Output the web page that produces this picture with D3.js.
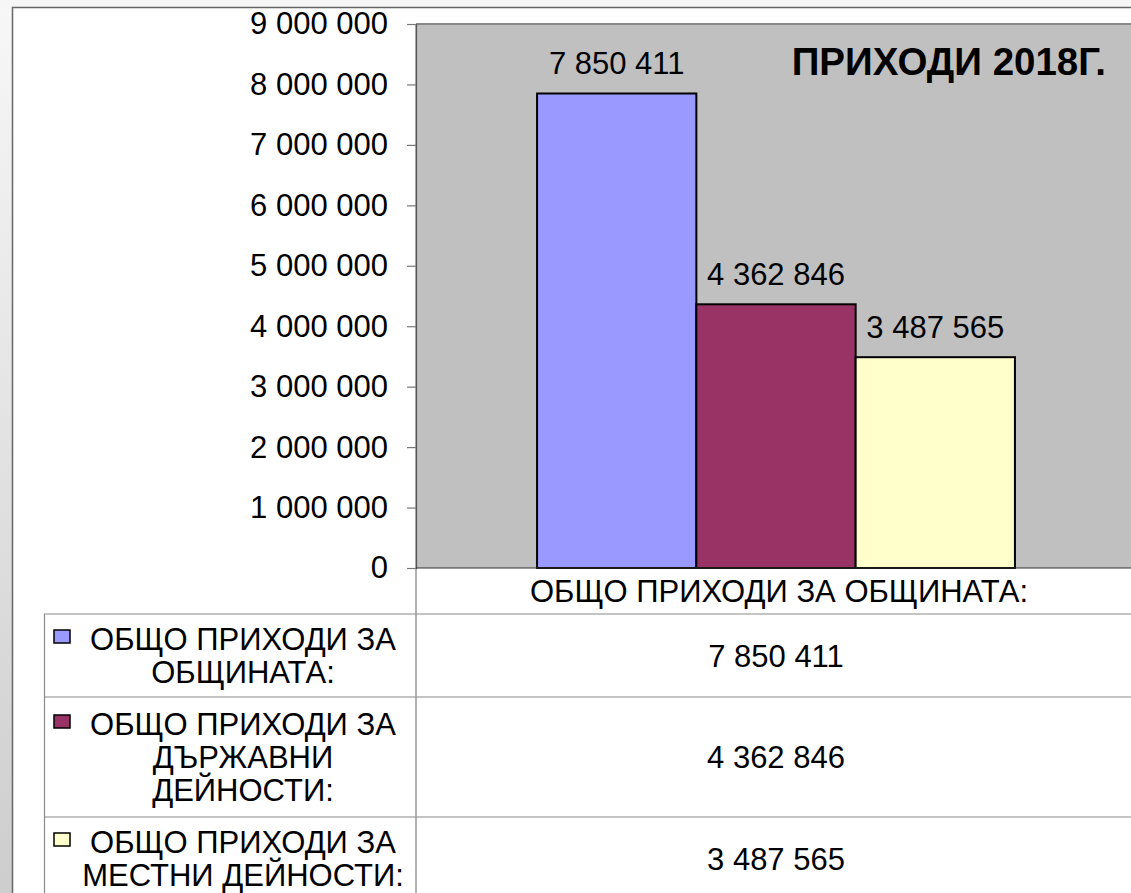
<!DOCTYPE html>
<html>
<head>
<meta charset="utf-8">
<title>Приходи 2018г.</title>
<style>
  body { margin: 0; background: #f6f6f6; }
  svg { display: block; font-family: "Liberation Sans", Arial, sans-serif; }
</style>
</head>
<body>
<div id="chart"></div>
<script src="https://cdn.jsdelivr.net/npm/d3@7"></script>
<script>
// data
var categories = ["ОБЩО ПРИХОДИ ЗА ОБЩИНАТА:"];
var seriesNames = ["ОБЩО ПРИХОДИ ЗА ОБЩИНАТА:", "ОБЩО ПРИХОДИ ЗА ДЪРЖАВНИ ДЕЙНОСТИ:", "ОБЩО ПРИХОДИ ЗА МЕСТНИ ДЕЙНОСТИ:"];
var seriesValues = [7850411, 4362846, 3487565];
var legendLines = [
  ["ОБЩО ПРИХОДИ ЗА", "ОБЩИНАТА:"],
  ["ОБЩО ПРИХОДИ ЗА", "ДЪРЖАВНИ", "ДЕЙНОСТИ:"],
  ["ОБЩО ПРИХОДИ ЗА", "МЕСТНИ ДЕЙНОСТИ:"]
];
var seriesColors = ["#9999ff", "#993366", "#ffffcc"];
var yTicks = [0, 1000000, 2000000, 3000000, 4000000, 5000000, 6000000, 7000000, 8000000, 9000000];
var chartTitle = "ПРИХОДИ 2018Г.";

var W = 1131, H = 893;
var plot = {left: 416, right: 1136, top: 24, bottom: 568};
var fs = 31, lineH = 33;

var loc = d3.formatLocale({decimal: ",", thousands: " ", grouping: [3], currency: ["", ""]});
var fmt = loc.format(",d");

var svg = d3.select("#chart").append("svg").attr("width", W).attr("height", H);

var defs = svg.append("defs");
var lg = defs.append("linearGradient").attr("id", "strip")
  .attr("x1", "0%").attr("x2", "0%").attr("y1", "0%").attr("y2", "100%");
lg.append("stop").attr("offset", "0%").style("stop-color", "#f7f7f7");
lg.append("stop").attr("offset", "100%").style("stop-color", "#cdcdcd");

svg.append("rect").attr("width", W).attr("height", H).attr("fill", "#f6f6f6");
svg.append("rect").attr("x", 0).attr("y", 7).attr("width", 12).attr("height", H).attr("fill", "url(#strip)");
// white page
svg.append("rect").attr("x", 12.5).attr("y", 7.5).attr("width", W).attr("height", H)
  .attr("fill", "#fff").attr("stroke", "#666").attr("stroke-width", 1.5);

// scales
var y = d3.scaleLinear().domain([0, 9000000]).range([plot.bottom, plot.top]);
var x0 = d3.scaleBand().domain(categories).range([plot.left, plot.right]);
var x1 = d3.scaleBand().domain(seriesNames).range([0, x0.bandwidth()]).paddingOuter(0.76).paddingInner(0);

// plot area
svg.append("rect").attr("x", plot.left).attr("y", plot.top)
  .attr("width", plot.right - plot.left + 10).attr("height", plot.bottom - plot.top)
  .attr("fill", "#c0c0c0");
svg.append("line").attr("x1", plot.left).attr("x2", W).attr("y1", plot.top).attr("y2", plot.top)
  .attr("stroke", "#888").attr("stroke-width", 2);

// table lines
var rowH = legendLines.map(function(l){ return 37 * l.length + 9; });
var rowTop = [614];
rowH.forEach(function(h, i){ rowTop.push(rowTop[i] + h); });

var tbl = svg.append("g");
rowTop.forEach(function(t){
  tbl.append("line").attr("x1", 44).attr("x2", W).attr("y1", t).attr("y2", t)
    .attr("stroke", "#8a8a8a").attr("stroke-width", 1.2);
});
tbl.append("line").attr("x1", 44.5).attr("x2", 44.5).attr("y1", 614).attr("y2", H)
  .attr("stroke", "#8a8a8a").attr("stroke-width", 1.2);
tbl.append("line").attr("x1", plot.left).attr("x2", plot.left).attr("y1", plot.top).attr("y2", H)
  .attr("stroke", "#999").attr("stroke-width", 1.5);

// bars
var g = svg.append("g");
var cat = categories[0];
g.selectAll("rect.bar").data(seriesValues).enter().append("rect")
  .attr("class", "bar")
  .attr("x", function(d, i){ return x0(cat) + x1(seriesNames[i]); })
  .attr("y", function(d){ return y(d); })
  .attr("width", x1.bandwidth())
  .attr("height", function(d){ return y(0) - y(d); })
  .attr("fill", function(d, i){ return seriesColors[i]; })
  .attr("stroke", "#000").attr("stroke-width", 2);

g.selectAll("text.val").data(seriesValues).enter().append("text")
  .attr("class", "val")
  .attr("x", function(d, i){ return x0(cat) + x1(seriesNames[i]) + x1.bandwidth() / 2; })
  .attr("y", function(d){ return y(d) - 19; })
  .attr("text-anchor", "middle").attr("font-size", fs).attr("fill", "#000")
  .text(function(d){ return fmt(d); });

// y axis
var yAxis = d3.axisLeft(y).tickValues(yTicks).tickFormat(fmt).tickSize(9).tickPadding(19);
var ax = svg.append("g").attr("transform", "translate(" + plot.left + ",0)").call(yAxis);
ax.select(".domain").attr("stroke", "#555").attr("stroke-width", 1.2);
ax.selectAll(".tick line").attr("stroke", "#777").attr("stroke-width", 1.2);
ax.selectAll(".tick text").attr("font-size", fs).attr("fill", "#000")
  .attr("font-family", "'Liberation Sans', Arial, sans-serif");

// zero line
svg.append("line").attr("x1", plot.left).attr("x2", W).attr("y1", y(0)).attr("y2", y(0))
  .attr("stroke", "#333").attr("stroke-width", 1);

// category label
svg.append("text").attr("x", x0(cat) + x0.bandwidth() / 2 + 3).attr("y", 602)
  .attr("text-anchor", "middle").attr("font-size", fs).text(cat);

// title
svg.append("text").attr("x", 1106).attr("y", 75).attr("text-anchor", "end")
  .attr("font-size", 38.5).attr("font-weight", "bold").text(chartTitle);

// legend table rows
legendLines.forEach(function(lines, i){
  var cy = rowTop[i] + rowH[i] / 2;
  lines.forEach(function(l, j){
    var capC = cy + (j - (lines.length - 1) / 2) * lineH;
    svg.append("text").attr("x", 243).attr("y", capC + 11)
      .attr("text-anchor", "middle").attr("font-size", fs).text(l);
    if (j == 0) {
      svg.append("rect").attr("x", 54).attr("y", capC - 9).attr("width", 16).attr("height", 13)
        .attr("fill", seriesColors[i]).attr("stroke", "#000").attr("stroke-width", 1.5);
    }
  });
  svg.append("text").attr("x", x0(cat) + x0.bandwidth() / 2).attr("y", cy + 11)
    .attr("text-anchor", "middle").attr("font-size", fs).text(fmt(seriesValues[i]));
});
</script>
</body>
</html>
